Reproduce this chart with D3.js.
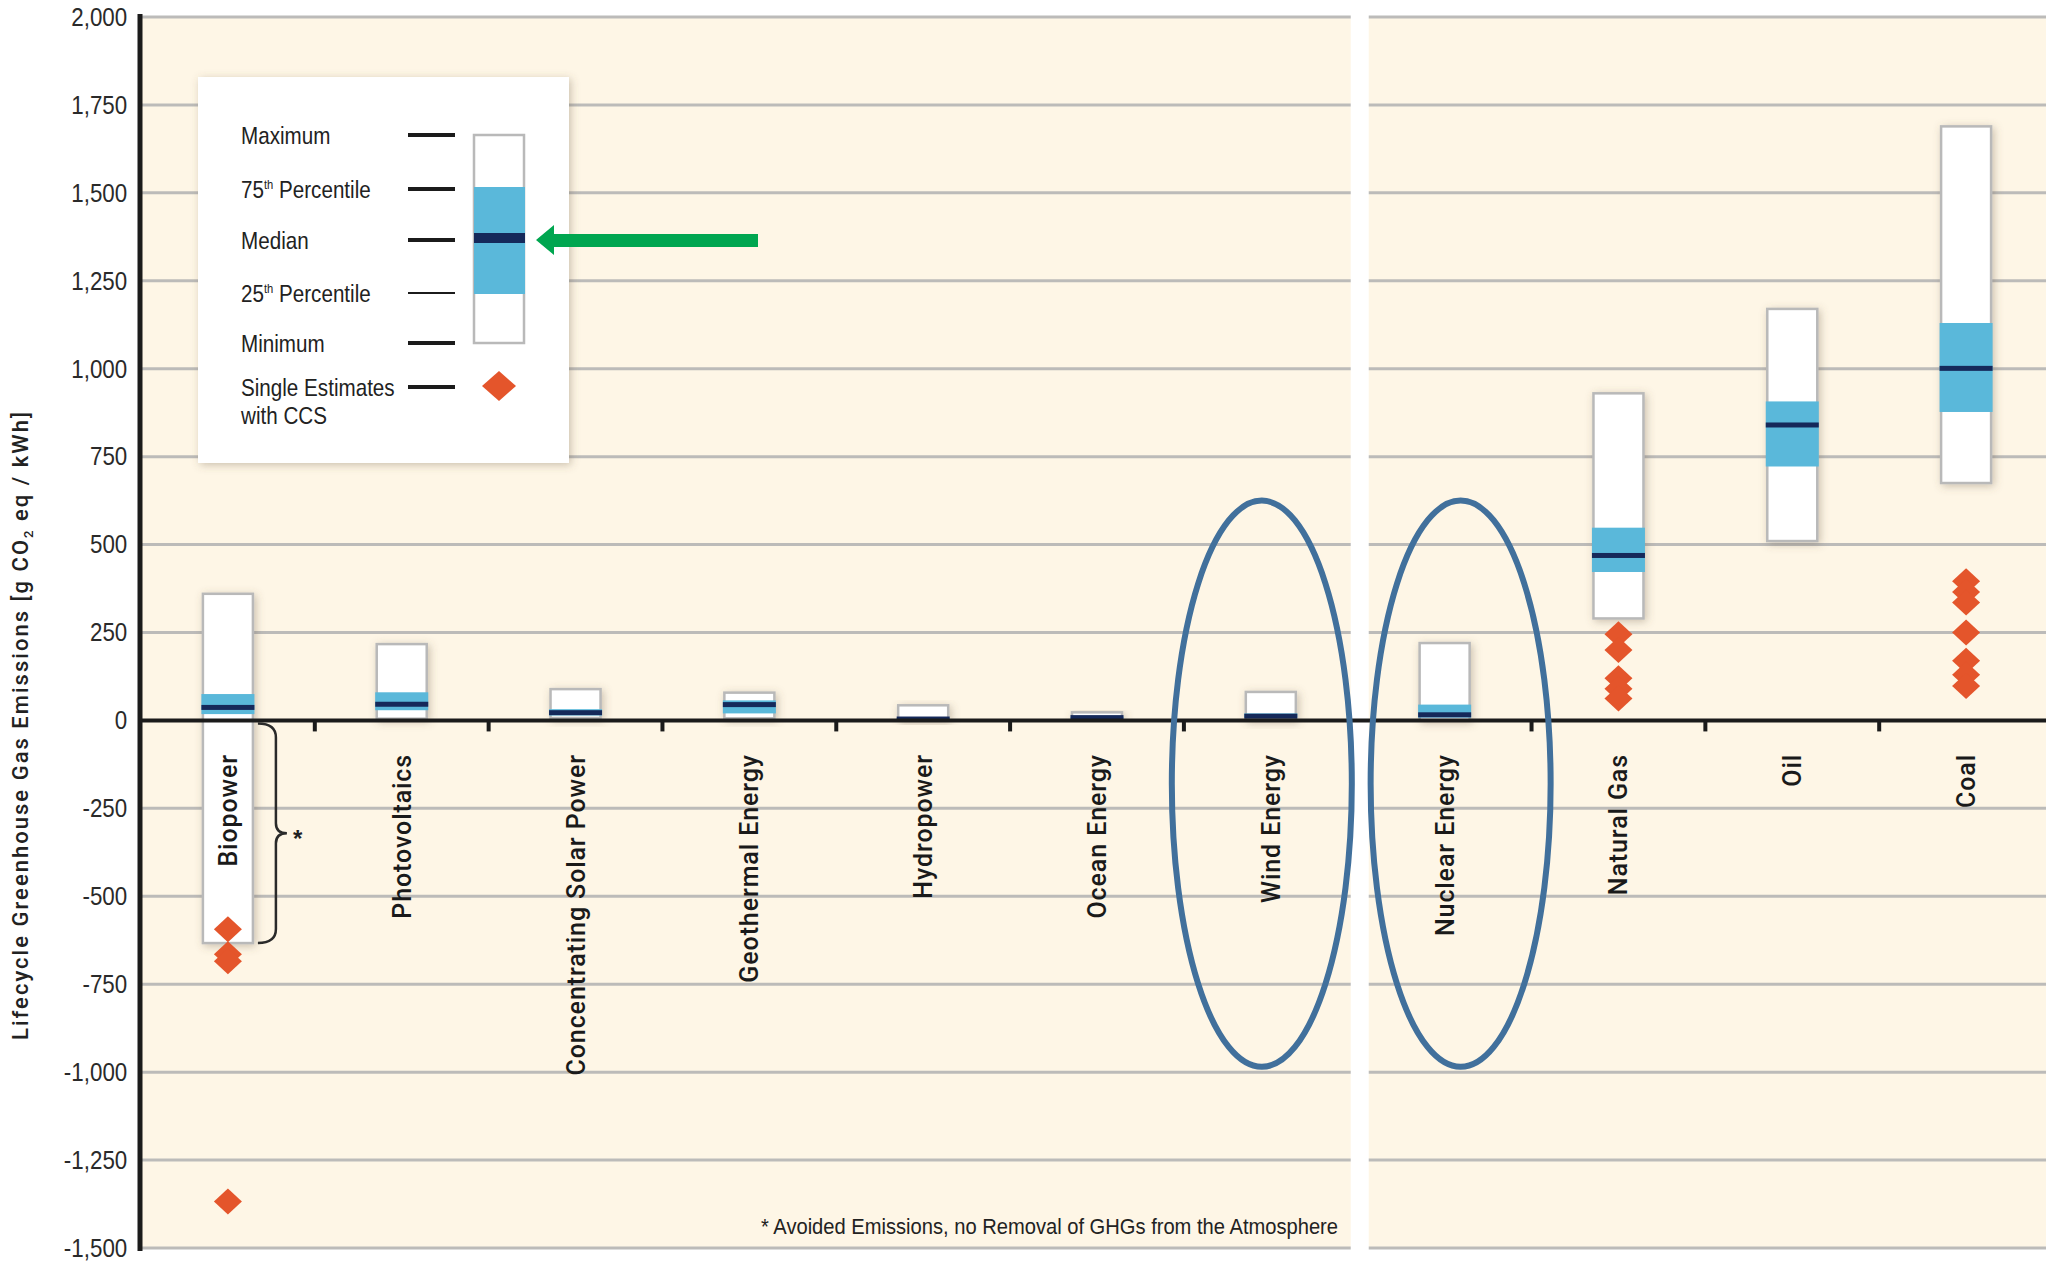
<!DOCTYPE html>
<html>
<head>
<meta charset="utf-8">
<script src="https://cdn.jsdelivr.net/npm/d3@7"></script>
<style>
  body { margin: 0; background: #fff; }
  svg { display: block; }
  .narrow { font-family: "Liberation Sans", Arial, sans-serif; }
  .semi { font-family: Roboto, "Open Sans", sans-serif; font-weight: 500; }
</style>
</head>
<body>
<div id="chart"></div>
<script>
// lifecycle GHG emissions by technology [g CO2 eq / kWh]
var categories = ["Biopower", "Photovoltaics", "Concentrating Solar Power", "Geothermal Energy",
  "Hydropower", "Ocean Energy", "Wind Energy", "Nuclear Energy", "Natural Gas", "Oil", "Coal"];
var minimum = [-633, 5, 7, 6, 0, 2, 2, 1, 290, 510, 675];
var pct25   = [18, 29, 14, 20, 3, 6, 8, 8, 422, 722, 877];
var median  = [37, 46, 22, 45, 4, 8, 12, 16, 469, 840, 1001];
var pct75   = [75, 80, 32, 57, 7, 9, 20, 45, 548, 907, 1130];
var maximum = [360, 217, 89, 79, 43, 23, 81, 220, 930, 1170, 1689];

// single estimates with CCS
var ccsCategory = ["Biopower", "Natural Gas", "Coal"];
var ccsValues = [
  [-594, -665, -685, -1368],
  [245, 200, 120, 90, 62],
  [396, 365, 335, 250, 170, 130, 98]
];

var yTicks = [2000, 1750, 1500, 1250, 1000, 750, 500, 250, 0, -250, -500, -750, -1000, -1250, -1500];
var circled = ["Wind Energy", "Nuclear Energy"];
var legendLabels = ["Maximum", "75th Percentile", "Median", "25th Percentile", "Minimum", "Single Estimates"];

var W = 2046, H = 1262;
var plotLeft = 141, plotTop = 17, plotBottom = 1248;

var svg = d3.select("#chart").append("svg")
  .attr("width", W)
  .attr("height", H);

var defs = svg.append("defs");
var shadow = defs.append("filter").attr("id", "shadow")
  .attr("x", "-60%").attr("y", "-30%").attr("width", "220%").attr("height", "160%");
shadow.append("feDropShadow").attr("dx", 2).attr("dy", 2).attr("stdDeviation", 4)
  .attr("flood-color", "#6b5a40").attr("flood-opacity", 0.35);

// scales
var y = d3.scaleLinear().domain([-1500, 2000]).range([plotBottom, plotTop]);
var x = d3.scaleBand().domain(categories).range([plotLeft, 2053]).padding(0);
var bw = x.bandwidth();
function cx(c) { return x(c) + bw / 2; }

var fmt = d3.formatLocale({decimal: ".", thousands: ",", grouping: [3], currency: ["", ""], minus: "-"}).format(",");

// background
svg.append("rect")
  .attr("x", plotLeft).attr("y", y(2000))
  .attr("width", W - plotLeft).attr("height", y(-1500) - y(2000))
  .attr("fill", "#fef6e6");

// gridlines
svg.append("g").selectAll("line")
  .data(yTicks.filter(function(d) { return d !== 0; }))
  .enter().append("line")
  .attr("x1", plotLeft).attr("x2", W)
  .attr("y1", function(d) { return y(d); })
  .attr("y2", function(d) { return y(d); })
  .attr("stroke", "#bcbbb9")
  .attr("stroke-width", 3);

// white gap between renewable and other technologies
var gapX = x("Nuclear Energy") + 2;
svg.append("rect")
  .attr("x", gapX - 9).attr("y", 0)
  .attr("width", 18).attr("height", H)
  .attr("fill", "#fff");

// Y axis labels (condensed look)
var yAxis = d3.axisLeft(y).tickValues(yTicks).tickSize(0).tickPadding(16).tickFormat(fmt);
var gy = svg.append("g")
  .attr("transform", "translate(" + plotLeft + ",0)")
  .call(yAxis);
gy.select(".domain").remove();
gy.selectAll("text")
  .attr("class", "narrow")
  .attr("font-size", 26)
  .attr("fill", "#2a2a2a")
  .attr("transform", "scale(0.86,1)");

// Y axis title
svg.append("text")
  .attr("class", "semi")
  .attr("transform", "translate(28," + 726 + ") rotate(-90)")
  .attr("text-anchor", "middle")
  .attr("font-size", 22)
  .attr("fill", "#222")
  .attr("textLength", 628)
  .attr("lengthAdjust", "spacing")
  .call(function(t) {
    t.append("tspan").text("Lifecycle Greenhouse Gas Emissions [g CO");
    t.append("tspan").attr("font-size", 13).attr("dy", 5).text("2");
    t.append("tspan").attr("dy", -5).text(" eq / kWh]");
  });

// boxes
var rows = categories.map(function(c, i) {
  return {cat: c, min: minimum[i], q1: pct25[i], med: median[i], q3: pct75[i], max: maximum[i]};
});
var boxW = 50, bandW = 53;
var gb = svg.append("g");
gb.selectAll("rect.range")
  .data(rows).enter().append("rect")
  .attr("class", "range")
  .attr("x", function(d) { return cx(d.cat) - boxW / 2; })
  .attr("y", function(d) { return y(d.max); })
  .attr("width", boxW)
  .attr("height", function(d) { return y(d.min) - y(d.max); })
  .attr("fill", "#fff")
  .attr("stroke", "#b9b9b9")
  .attr("stroke-width", 2.5)
  .attr("filter", "url(#shadow)");
gb.selectAll("rect.iqr")
  .data(rows).enter().append("rect")
  .attr("class", "iqr")
  .attr("x", function(d) { return cx(d.cat) - bandW / 2; })
  .attr("y", function(d) { return y(d.q3); })
  .attr("width", bandW)
  .attr("height", function(d) { return y(d.q1) - y(d.q3); })
  .attr("fill", "#5ab8da");
gb.selectAll("rect.med")
  .data(rows).enter().append("rect")
  .attr("class", "med")
  .attr("x", function(d) { return cx(d.cat) - bandW / 2; })
  .attr("y", function(d) { return y(d.med) - 2.5; })
  .attr("width", bandW)
  .attr("height", 5)
  .attr("fill", "#15295a");

// zero line with category ticks
svg.append("line")
  .attr("x1", plotLeft).attr("x2", W)
  .attr("y1", y(0)).attr("y2", y(0))
  .attr("stroke", "#1b1b1b").attr("stroke-width", 4);
svg.append("g").selectAll("line")
  .data(categories.slice(1).filter(function(c) { return c !== "Nuclear Energy"; }))
  .enter().append("line")
  .attr("x1", function(c) { return x(c); })
  .attr("x2", function(c) { return x(c); })
  .attr("y1", y(0)).attr("y2", y(0) + 11)
  .attr("stroke", "#1b1b1b").attr("stroke-width", 4);

// y axis line
svg.append("line")
  .attr("x1", plotLeft - 1).attr("x2", plotLeft - 1)
  .attr("y1", y(2000) - 3).attr("y2", y(-1500) + 3)
  .attr("stroke", "#1b1b1b").attr("stroke-width", 5);

// category labels
svg.append("g").selectAll("text")
  .data(categories).enter().append("text")
  .attr("class", "semi")
  .attr("transform", function(c) { return "translate(" + (cx(c) + 9) + ",754) rotate(-90)"; })
  .attr("text-anchor", "end")
  .attr("font-size", 25)
  .attr("letter-spacing", 0.9)
  .attr("fill", "#1a1a1a")
  .text(function(c) { return c; });

// CCS diamonds
function diamond(px, py, hw, hh) {
  return "M" + px + "," + (py - hh) + "L" + (px + hw) + "," + py + "L" + px + "," + (py + hh) + "L" + (px - hw) + "," + py + "Z";
}
var ccsPts = [];
ccsCategory.forEach(function(c, i) {
  ccsValues[i].forEach(function(v) { ccsPts.push({cat: c, v: v}); });
});
svg.append("g").selectAll("path")
  .data(ccsPts).enter().append("path")
  .attr("d", function(d) { return diamond(cx(d.cat), y(d.v), 14, 13); })
  .attr("fill", "#e4552b");

// brace for biopower avoided emissions
var bx = cx("Biopower") + 30, by0 = y(0) + 3, by1 = y(minimum[0]), bm = (by0 + by1) / 2;
svg.append("path")
  .attr("d", "M" + bx + "," + by0 + " Q" + (bx + 18) + "," + by0 + " " + (bx + 18) + "," + (by0 + 14) +
    " L" + (bx + 18) + "," + (bm - 10) + " Q" + (bx + 18) + "," + bm + " " + (bx + 29) + "," + bm +
    " Q" + (bx + 18) + "," + bm + " " + (bx + 18) + "," + (bm + 10) +
    " L" + (bx + 18) + "," + (by1 - 14) + " Q" + (bx + 18) + "," + by1 + " " + bx + "," + by1)
  .attr("fill", "none")
  .attr("stroke", "#2a2a2a")
  .attr("stroke-width", 2.5);
svg.append("text")
  .attr("x", bx + 35).attr("y", bm + 14)
  .attr("font-family", "Liberation Sans, sans-serif")
  .attr("font-weight", 700)
  .attr("font-size", 24)
  .attr("fill", "#222")
  .text("*");

// footnote
svg.append("text")
  .attr("class", "narrow")
  .attr("x", 1338).attr("y", 1234)
  .attr("text-anchor", "end")
  .attr("font-size", 22)
  .attr("fill", "#222")
  .attr("textLength", 577)
  .attr("lengthAdjust", "spacingAndGlyphs")
  .text("* Avoided Emissions, no Removal of GHGs from the Atmosphere");

// highlight ellipses
var ellipseShift = {"Wind Energy": -9, "Nuclear Energy": 16};
svg.append("g").selectAll("ellipse")
  .data(circled).enter().append("ellipse")
  .attr("cx", function(c) { return cx(c) + ellipseShift[c]; })
  .attr("cy", (y(625) + y(-985)) / 2)
  .attr("rx", 90)
  .attr("ry", (y(-985) - y(625)) / 2)
  .attr("fill", "none")
  .attr("stroke", "#41709c")
  .attr("stroke-width", 6);

// legend
var lg = svg.append("g");
lg.append("rect")
  .attr("x", 198).attr("y", 77).attr("width", 371).attr("height", 386)
  .attr("fill", "#fff")
  .attr("filter", "url(#shadow)");
var rowY = [135, 189, 240, 293, 343, 387];
var sx = 0.86;
var lt = lg.append("g").attr("transform", "scale(" + sx + ",1)");
lt.selectAll("text.lab")
  .data(legendLabels).enter().append("text")
  .attr("class", "narrow lab")
  .attr("x", 241 / sx)
  .attr("y", function(d, i) { return rowY[i] + 9; })
  .attr("font-size", 24)
  .attr("fill", "#222")
  .each(function(d) {
    var t = d3.select(this);
    var m = d.match(/^(\d+)th (.*)$/);
    if (m) {
      t.append("tspan").text(m[1]);
      t.append("tspan").attr("font-size", 13).attr("dy", -9).text("th");
      t.append("tspan").attr("dy", 9).text(" " + m[2]);
    } else {
      t.text(d);
    }
  });
lt.append("text")
  .attr("class", "narrow")
  .attr("x", 241 / sx).attr("y", 424)
  .attr("font-size", 24)
  .attr("fill", "#222")
  .text("with CCS");
lg.selectAll("line")
  .data(rowY).enter().append("line")
  .attr("x1", 408).attr("x2", 455)
  .attr("y1", function(d) { return d; })
  .attr("y2", function(d) { return d; })
  .attr("stroke", "#1b1b1b")
  .attr("stroke-width", function(d, i) { return i === 3 ? 2 : 4; });
lg.append("rect")
  .attr("x", 474).attr("y", rowY[0]).attr("width", 50).attr("height", rowY[4] - rowY[0])
  .attr("fill", "#fff").attr("stroke", "#b9b9b9").attr("stroke-width", 2.5);
lg.append("rect")
  .attr("x", 474).attr("y", 187).attr("width", 51).attr("height", 107)
  .attr("fill", "#5ab8da");
lg.append("rect")
  .attr("x", 474).attr("y", 233).attr("width", 51).attr("height", 10)
  .attr("fill", "#15295a");
lg.append("path")
  .attr("d", diamond(499, rowY[5] - 1, 17, 15))
  .attr("fill", "#e4552b");

// green arrow pointing at the median
lg.append("path")
  .attr("d", "M536,240 L554,225 L554,234 L758,234 L758,247 L554,247 L554,255 Z")
  .attr("fill", "#00a650");
</script>
</body>
</html>
